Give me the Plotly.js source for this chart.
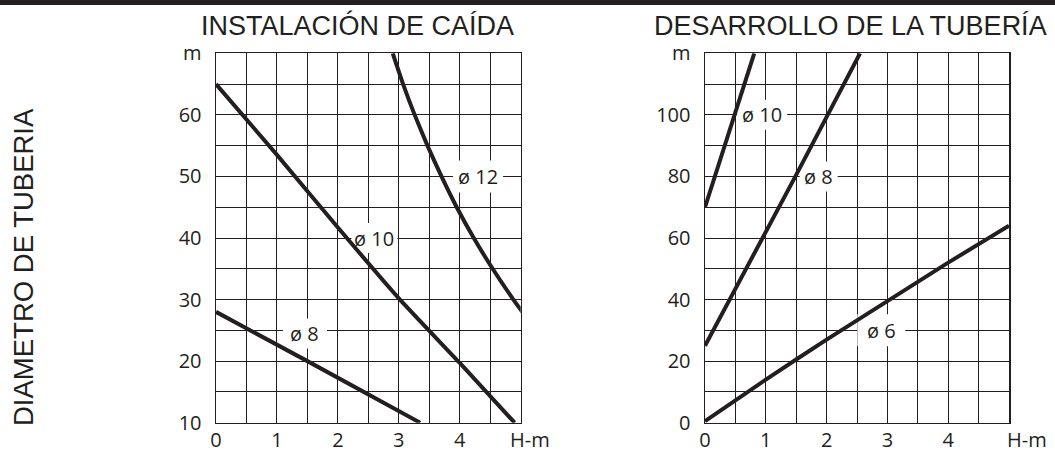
<!DOCTYPE html>
<html>
<head>
<meta charset="utf-8">
<script src="https://cdn.plot.ly/plotly-3.0.1.min.js"></script>
<style>html,body{margin:0;padding:0;background:#fff;}#chart{width:1055px;height:452px;}</style>
</head>
<body>
<div id="chart"></div>
<script>
// ---- Data ----
// Left chart: INSTALACIÓN DE CAÍDA
const leftD8_x  = [0, 1.5, 3.35];
const leftD8_y  = [28, 20, 10];
const leftD10_x = [0, 1, 2, 3, 4, 4.9];
const leftD10_y = [65, 53.5, 41.7, 30.2, 19.7, 10];
const leftD12_x = [2.9, 3.07, 3.26, 3.47, 3.7, 3.95, 4.23, 4.54, 4.88, 5.25];
const leftD12_y = [70, 65, 60, 55, 50, 45, 40, 35, 30, 25];
// Right chart: DESARROLLO DE LA TUBERÍA
const rightD10_x = [0, 0.81];
const rightD10_y = [70, 120];
const rightD8_x  = [0, 1.5, 2.55];
const rightD8_y  = [25, 80.5, 120];
const rightD6_x  = [0, 1, 2, 3, 4, 5];
const rightD6_y  = [0.5, 14, 27, 39.5, 52, 64];

// Tick labels
const xTickVals = [0, 0.5, 1, 1.5, 2, 2.5, 3, 3.5, 4, 4.5, 5];
const xTickText = ['0', '', '1', '', '2', '', '3', '', '4', '', ''];
const leftYTickVals = [10, 15, 20, 25, 30, 35, 40, 45, 50, 55, 60, 65, 70];
const leftYTickText = ['10', '', '20', '', '30', '', '40', '', '50', '', '60', '', 'm'];
const rightYTickVals = [0, 10, 20, 30, 40, 50, 60, 70, 80, 90, 100, 110, 120];
const rightYTickText = ['0', '', '20', '', '40', '', '60', '', '80', '', '100', '', 'm'];

// Curve labels (text, anchor point, box size in px)
const curveLabels = [
  {text: 'ø 8',  x: 1.46, y: 24.5, ax: 'x',  ay: 'y',  w: 44, h: 30},
  {text: 'ø 10', x: 2.6,  y: 40,   ax: 'x',  ay: 'y',  w: 46, h: 30},
  {text: 'ø 12', x: 4.3,  y: 50,   ax: 'x',  ay: 'y',  w: 50, h: 32},
  {text: 'ø 10', x: 0.94, y: 100,  ax: 'x2', ay: 'y2', w: 50, h: 30},
  {text: 'ø 8',  x: 1.87, y: 80,   ax: 'x2', ay: 'y2', w: 38, h: 30},
  {text: 'ø 6',  x: 2.9,  y: 30,   ax: 'x2', ay: 'y2', w: 48, h: 32}
];

const INK = '#231f20';
const numFont = {family: 'Open Sans, Noto Sans, sans-serif', size: 20, color: INK};
const titleFont = {family: 'Liberation Sans, Arial, sans-serif', size: 27, color: INK};

function curve(x, y, xa, ya) {
  return {x: x, y: y, xaxis: xa, yaxis: ya, type: 'scatter', mode: 'lines',
          line: {color: INK, width: 4, shape: 'spline', smoothing: 0.5},
          hoverinfo: 'skip', showlegend: false};
}

const data = [
  curve(leftD8_x, leftD8_y, 'x', 'y'),
  curve(leftD10_x, leftD10_y, 'x', 'y'),
  curve(leftD12_x, leftD12_y, 'x', 'y'),
  curve(rightD10_x, rightD10_y, 'x2', 'y2'),
  curve(rightD8_x, rightD8_y, 'x2', 'y2'),
  curve(rightD6_x, rightD6_y, 'x2', 'y2')
];

const W = 1055, H = 452;
const yDom = [(H - 422.7) / H, (H - 53.3) / H];

function xAxis(dom, anchor, standoff) {
  return {domain: dom, anchor: anchor, range: [0, 5], tickmode: 'array',
          tickvals: xTickVals, ticktext: xTickText, showgrid: true,
          gridcolor: INK, gridwidth: 1, zeroline: false, showline: true,
          mirror: true, linecolor: INK, linewidth: 1.5, ticks: '',
          tickfont: numFont, ticklabelstandoff: standoff, fixedrange: true};
}
function yAxis(range, vals, text, anchor) {
  return {domain: yDom, anchor: anchor, range: range, tickmode: 'array',
          tickvals: vals, ticktext: text, showgrid: true,
          gridcolor: INK, gridwidth: 1, zeroline: false, showline: true,
          mirror: true, linecolor: INK, linewidth: 1.5, ticks: '',
          tickfont: numFont, ticklabelstandoff: 9, fixedrange: true};
}

const annotations = curveLabels.map(l => ({
  text: l.text, x: l.x, y: l.y, xref: l.ax, yref: l.ay, showarrow: false,
  font: numFont, xanchor: 'center', yanchor: 'middle'
}));
annotations.push(
  {text: 'INSTALACIÓN DE CAÍDA', x: 357.5 / W, y: 1 - 26 / H, xref: 'paper', yref: 'paper',
   showarrow: false, font: titleFont, xanchor: 'center', yanchor: 'middle'},
  {text: 'DESARROLLO DE LA TUBERÍA', x: 850 / W, y: 1 - 26 / H, xref: 'paper', yref: 'paper',
   showarrow: false, font: titleFont, xanchor: 'center', yanchor: 'middle'},
  {text: 'DIAMETRO DE TUBERIA', x: 23 / W, y: (H - 267) / H, xref: 'paper', yref: 'paper',
   showarrow: false, textangle: -90, xanchor: 'center', yanchor: 'middle',
   font: {family: 'Liberation Sans, Arial, sans-serif', size: 27.5, color: INK}},
  {text: 'H-m', x: 530 / W, y: (H - 439) / H, xref: 'paper', yref: 'paper',
   showarrow: false, font: numFont, xanchor: 'center', yanchor: 'middle'},
  {text: 'H-m', x: 1027 / W, y: (H - 439) / H, xref: 'paper', yref: 'paper',
   showarrow: false, font: numFont, xanchor: 'center', yanchor: 'middle'}
);

// white boxes behind curve labels: between gridlines and traces
const labelBoxes = curveLabels.map(l => ({
  type: 'rect', layer: 'between',
  xref: l.ax, yref: l.ay,
  xsizemode: 'pixel', ysizemode: 'pixel', xanchor: l.x, yanchor: l.y,
  x0: -l.w / 2, x1: l.w / 2, y0: -l.h / 2, y1: l.h / 2,
  fillcolor: '#ffffff', line: {width: 0}
}));

const layout = {
  width: W, height: H, autosize: false,
  margin: {l: 0, r: 0, t: 0, b: 0, pad: 0},
  paper_bgcolor: '#ffffff', plot_bgcolor: '#ffffff',
  showlegend: false,
  xaxis: xAxis([216 / W, 520.7 / W], 'y', -1),
  yaxis: yAxis([10, 70], leftYTickVals, leftYTickText, 'x'),
  xaxis2: xAxis([705 / W, 1009 / W], 'y2', -1),
  yaxis2: yAxis([0, 120], rightYTickVals, rightYTickText, 'x2'),
  annotations: annotations,
  shapes: labelBoxes.concat([
    {type: 'rect', xref: 'paper', yref: 'paper', x0: 0, x1: 1, y0: 1 - 5 / H, y1: 1,
     fillcolor: INK, line: {width: 0}, layer: 'above'}
  ])
};

Plotly.newPlot('chart', data, layout, {displayModeBar: false, staticPlot: true});
</script>
</body>
</html>
